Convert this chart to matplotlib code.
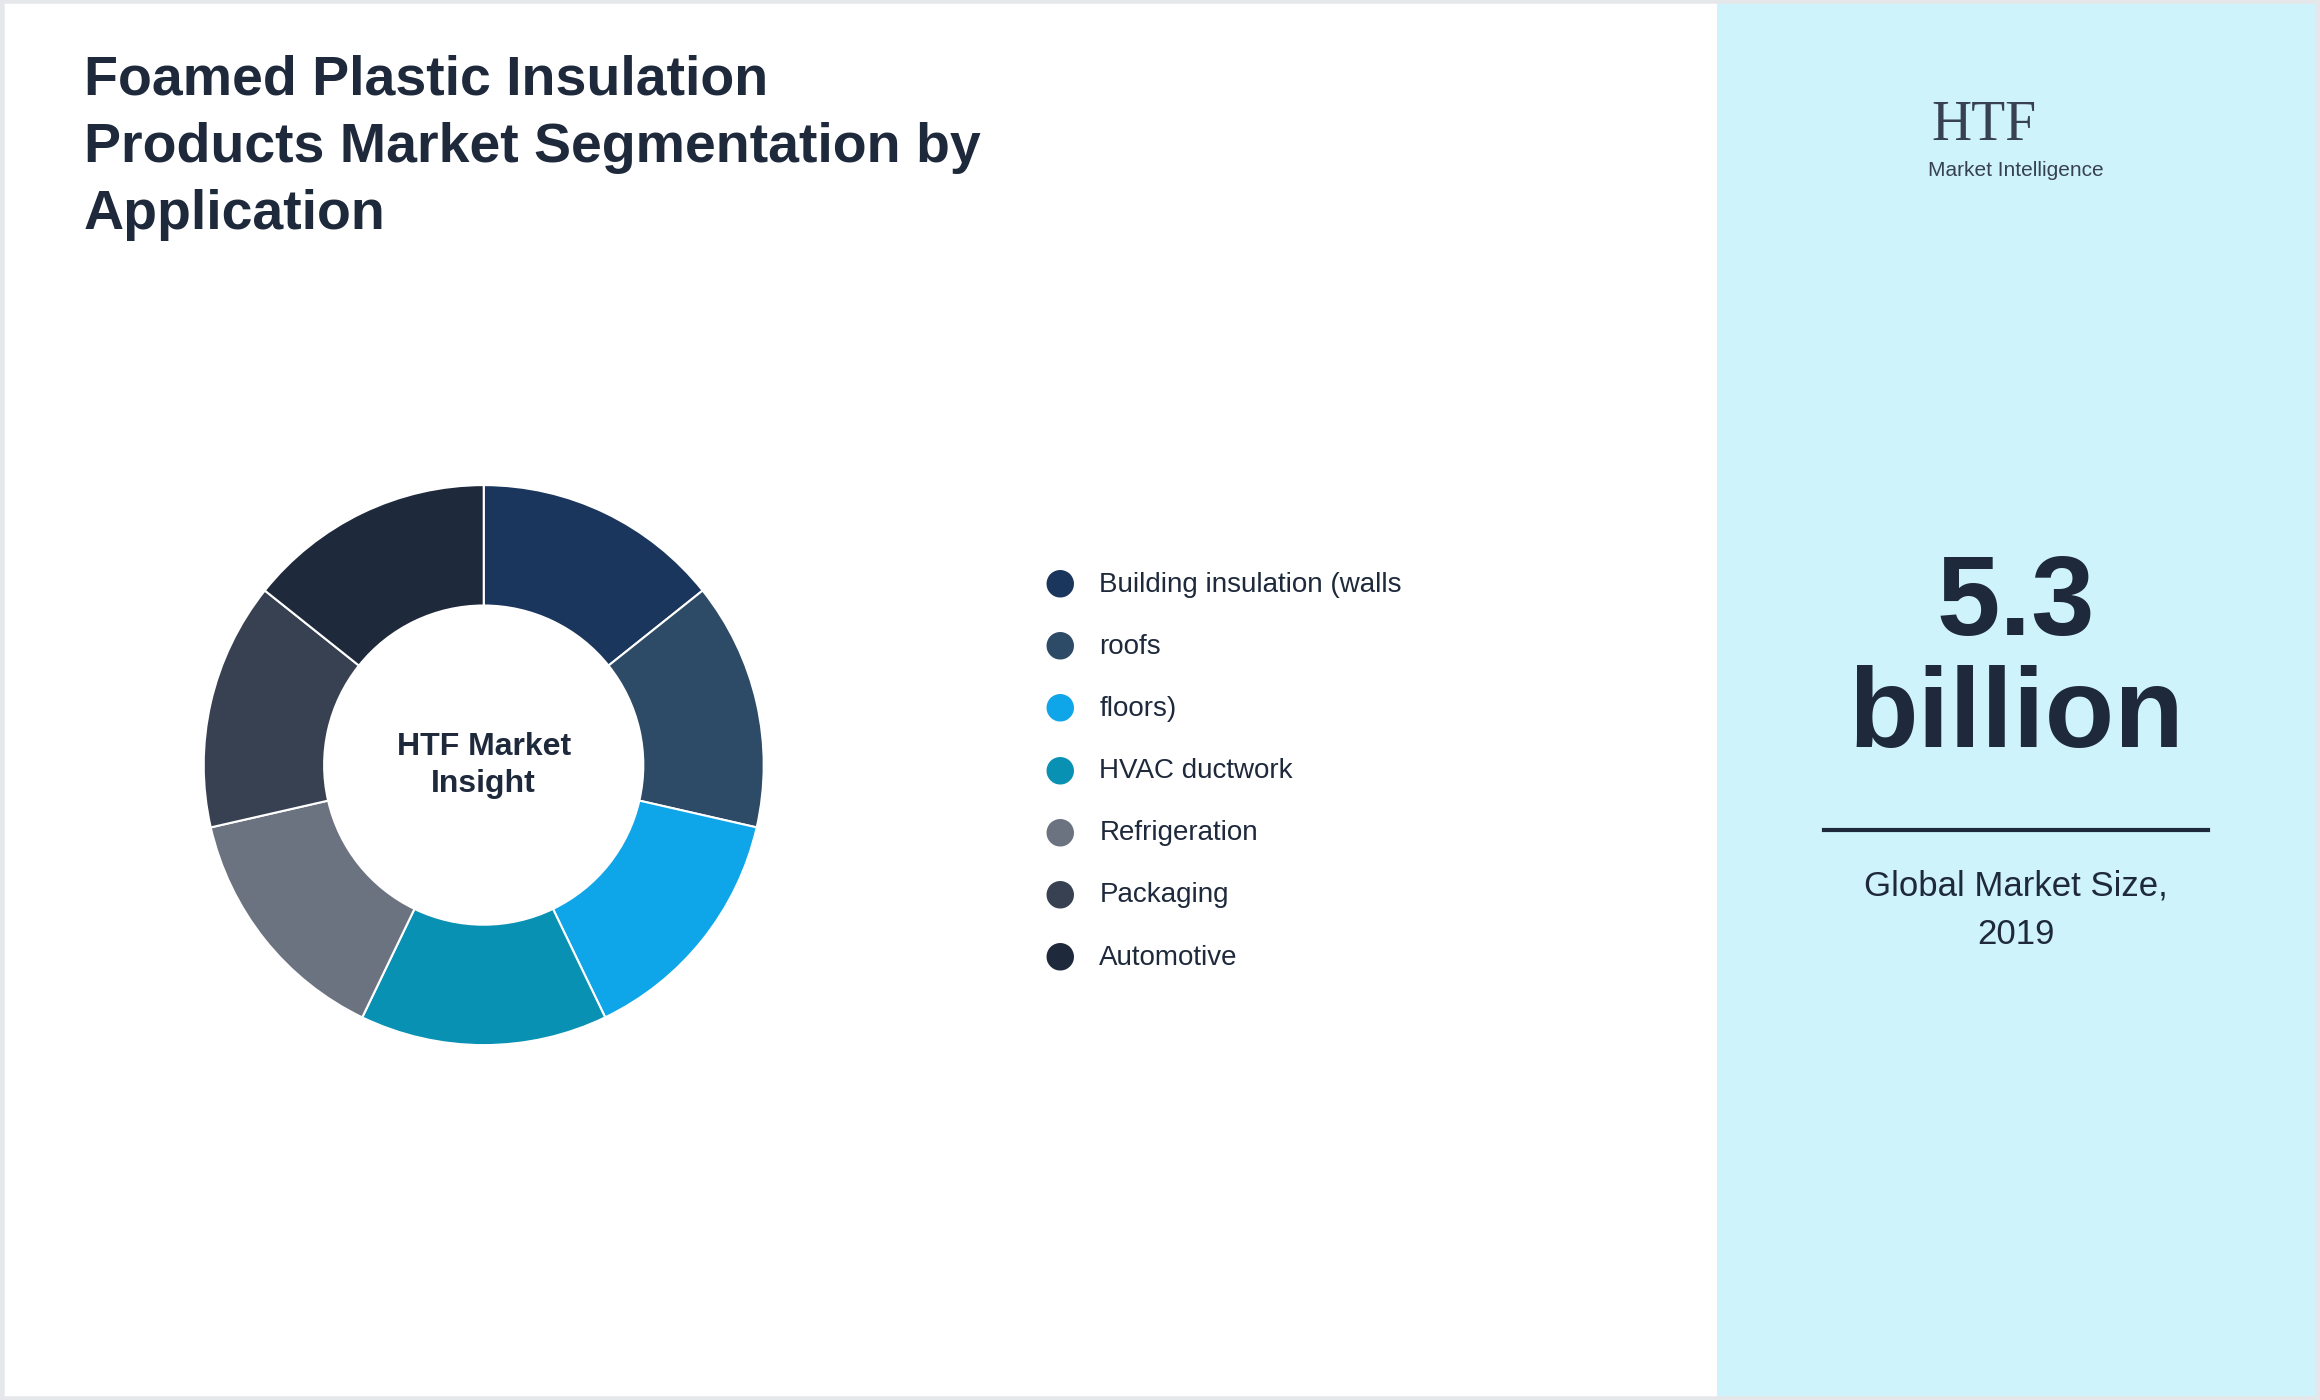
import matplotlib
matplotlib.use("Agg")
import matplotlib.pyplot as plt
from matplotlib.patches import Rectangle

categories = ["Building insulation (walls", "roofs", "floors)", "HVAC ductwork",
              "Refrigeration", "Packaging", "Automotive"]
values = [1, 1, 1, 1, 1, 1, 1]
colors = ["#1b365d", "#2d4a66", "#0ea5e9", "#0891b2", "#6b7280", "#374151", "#1e293b"]
title = "Foamed Plastic Insulation\nProducts Market Segmentation by\nApplication"
market_value = "5.3\nbillion"
market_label = "Global Market Size,\n2019"

plt.rcParams['font.family'] = ['Liberation Sans', 'DejaVu Sans']
fig = plt.figure(figsize=(23.2, 14), dpi=100)
fig.patch.set_facecolor("white")

fig.patches.append(Rectangle((0.740, 0), 0.26, 1, transform=fig.transFigure,
                             facecolor="#cff3fb", edgecolor="none", zorder=0))
fig.patches.append(Rectangle((0.001, 0.001), 0.998, 0.998, transform=fig.transFigure,
                             facecolor="none", edgecolor="#e5e7eb", lw=4, zorder=5))

fig.text(0.036, 0.961, title, fontsize=40, fontweight="bold", color="#1e293b",
         va="top", ha="left", linespacing=1.38)

h = 0.40
w = h * 1400 / 2320
ax = fig.add_axes([0.2085 - w / 2, 0.4535 - h / 2, w, h])
ax.pie(values, colors=colors, startangle=90, counterclock=False,
       wedgeprops=dict(width=0.43, edgecolor="white", linewidth=1.5))
ax.set_xlim(-1, 1)
ax.set_ylim(-1, 1)
ax.set_aspect("equal")
ax.text(0, 0, "HTF Market\nInsight", ha="center", va="center", fontsize=23,
        fontweight="bold", color="#1e293b", linespacing=1.3)

for i, (c, col) in enumerate(zip(categories, colors)):
    y = 1 - (395 + 42 * i) / 946
    fig.text(716 / 1568, y, "●", color=col, fontsize=46, ha="center", va="center")
    fig.text(743 / 1568, y, c, fontsize=20, color="#1e293b", ha="left", va="center")

fig.text(0.869, 0.527, market_value, fontsize=82, fontweight="bold", color="#1e293b",
         ha="center", va="center", linespacing=1.08)
fig.add_artist(plt.Line2D([1233 / 1568, 1492 / 1568], [1 - 561 / 946] * 2,
                          transform=fig.transFigure, color="#1e293b", lw=3))
fig.text(0.869, 1 - 615 / 946, market_label, fontsize=25, color="#1e293b",
         ha="center", va="center", linespacing=1.6)

fig.text(0.855, 1 - 85 / 946, "HTF", fontsize=40, family="Liberation Serif",
         color="#374151", ha="center", va="center")
fig.text(0.869, 1 - 115 / 946, "Market Intelligence", fontsize=15, color="#374151",
         ha="center", va="center")

fig.savefig("out.png", dpi=100)
